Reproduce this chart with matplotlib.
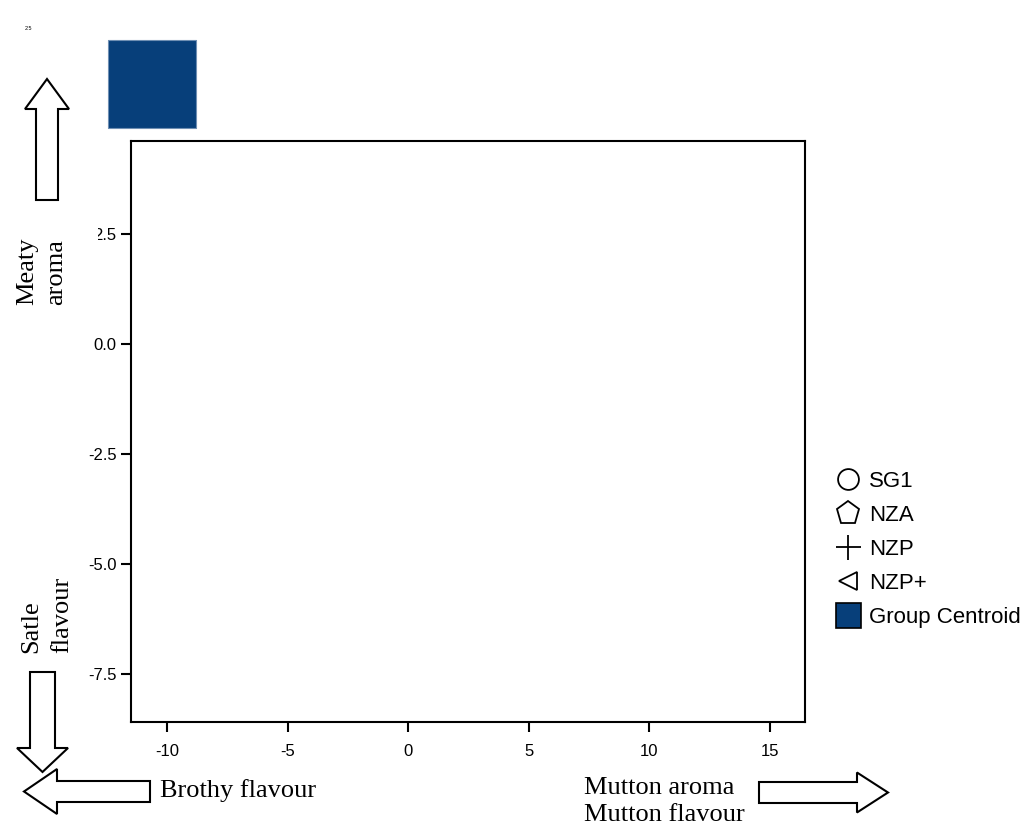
import matplotlib
matplotlib.use("Agg")
import matplotlib.pyplot as plt
from matplotlib.lines import Line2D
from matplotlib.patches import FancyArrow, Rectangle

plt.rcParams['font.family'] = 'Liberation Sans'

# groups shown in the legend (no points fall inside the plotted window)
groups = ['SG1', 'NZA', 'NZP', 'NZP+']
group_markers = ['o', 'p', '+', '<']
group_x = [[], [], [], []]
group_y = [[], [], [], []]

# group centroid (drawn outside the axes, top left)
centroid_x = [-10.64]
centroid_y = [5.91]
centroid_color = '#073f7a'

x_ticks = [-10, -5, 0, 5, 10, 15]
y_ticks = [2.5, 0.0, -2.5, -5.0, -7.5]

W, H = 1026, 825
fig = plt.figure(figsize=(W / 100, H / 100), dpi=100)
ax = fig.add_axes([131 / W, 103 / H, 674 / W, 581 / H])

for xs, ys, m in zip(group_x, group_y, group_markers):
    ax.scatter(xs, ys, marker=m, facecolors='none', edgecolors='black')
ax.scatter(centroid_x, centroid_y, marker='s', s=64 ** 2, c=centroid_color,
           edgecolors='#6f8fb3', linewidths=0.8, clip_on=False, zorder=10)

ax.set_xlim(-11.49, 16.45)
ax.set_ylim(-8.59, 4.61)
ax.set_xticks(x_ticks)
ax.set_xticklabels([str(v) for v in x_ticks])
ax.set_yticks(y_ticks)
ax.set_yticklabels([f'{v:.1f}' for v in y_ticks])
ax.tick_params(direction='out', length=7.5, width=1.5, labelsize=12)
ax.tick_params(axis='x', pad=8)
ax.tick_params(axis='y', pad=3)
for s in ax.spines.values():
    s.set_linewidth(1.5)

# legend
handles = []
for g, m in zip(groups, group_markers):
    ms = {'o': 15, 'p': 17, '+': 18, '<': 13}[m]
    handles.append(Line2D([], [], marker=m, linestyle='none', markersize=ms,
                          markerfacecolor='none', markeredgecolor='black',
                          markeredgewidth=1.3, label=g))
handles.append(Line2D([], [], marker='s', linestyle='none', markersize=18,
                      markerfacecolor=centroid_color, markeredgecolor='black',
                      markeredgewidth=1.2, label='Group Centroid'))
fig.legend(handles=handles, loc='center left', bbox_to_anchor=(0.814, 0.334),
           frameon=False, fontsize=16, handletextpad=0.33, labelspacing=0.58,
           handlelength=1.2, borderaxespad=0, borderpad=0)

# overlay in pixel coordinates for arrows and direction labels
ov = fig.add_axes([0, 0, 1, 1], zorder=5)
ov.set_xlim(0, W)
ov.set_ylim(H, 0)
ov.axis('off')
ov.patch.set_alpha(0)

# white patch that hides most of the "2" of the 2.5 label, as in the source
ov.add_patch(Rectangle((64, 222), 34, 24, fc='white', ec='none'))

arrows = [
    (47, 200, 0, -121, 22, 44, 30),
    (42.5, 672, 0, 100, 25, 51, 24),
    (150, 791.5, -126, 0, 21, 45, 33),
    (759, 792.5, 129, 0, 21, 40, 31),
]
for x, y, dx, dy, w, hw, hl in arrows:
    ov.add_patch(FancyArrow(x, y, dx, dy, width=w, head_width=hw, head_length=hl,
                            length_includes_head=True, fc='white', ec='black', lw=1.5))

serif = dict(family='Liberation Serif', fontsize=19)
ov.text(33, 305, 'Meaty', rotation=90, rotation_mode='anchor', ha='left', va='baseline', **serif)
ov.text(62, 305, 'aroma', rotation=90, rotation_mode='anchor', ha='left', va='baseline', **serif)
ov.text(37, 653, 'Satle', rotation=90, rotation_mode='anchor', ha='left', va='baseline', **serif)
ov.text(68, 653, 'flavour', rotation=90, rotation_mode='anchor', ha='left', va='baseline', **serif)
ov.text(160, 797, 'Brothy flavour', ha='left', va='baseline', **serif)
ov.text(584, 794, 'Mutton aroma', ha='left', va='baseline', **serif)
ov.text(584, 821, 'Mutton flavour', ha='left', va='baseline', **serif)

# tiny stray label in the top-left corner
ov.text(28, 30, '2.5', fontsize=4, ha='center', va='baseline')

fig.savefig('out.png', dpi=100)
